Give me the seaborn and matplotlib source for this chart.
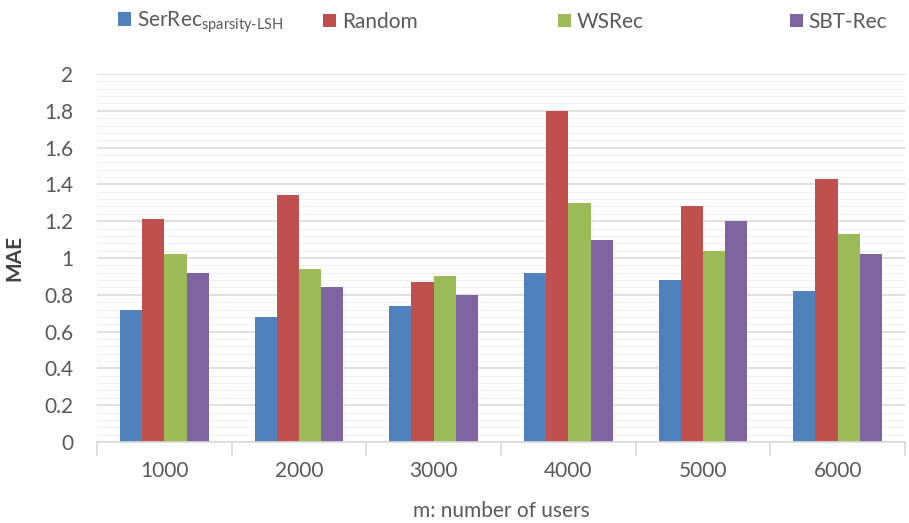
import numpy as np
import pandas as pd
import matplotlib
matplotlib.use('Agg')
import matplotlib.pyplot as plt
from matplotlib.ticker import MultipleLocator, FixedLocator
import seaborn as sns

# data
users = ['1000', '2000', '3000', '4000', '5000', '6000']
methods = ['SerRec', 'Random', 'WSRec', 'SBT-Rec']
serrec = [0.72, 0.68, 0.74, 0.92, 0.88, 0.82]
random_ = [1.21, 1.34, 0.87, 1.80, 1.28, 1.43]
wsrec = [1.02, 0.94, 0.90, 1.30, 1.04, 1.13]
sbtrec = [0.92, 0.84, 0.80, 1.10, 1.20, 1.02]
colors = ['#4F81BD', '#C0504D', '#9BBB59', '#8064A2']
legend_labels = ['SerRec$_{\\mathregular{sparsity\u2010LSH}}$', 'Random', 'WSRec', 'SBT-Rec']

df = pd.DataFrame({'users': users * 4,
                   'method': np.repeat(methods, len(users)),
                   'MAE': serrec + random_ + wsrec + sbtrec})

sns.set_style('white')
plt.rcParams['font.family'] = ['Lato', 'DejaVu Sans']
plt.rcParams['mathtext.fontset'] = 'custom'
plt.rcParams['mathtext.rm'] = 'Lato'

fig = plt.figure(figsize=(9.09, 5.23), dpi=100)
ax = fig.add_axes([97/909, 81/523, 808/909, 368/523])

sns.barplot(data=df, x='users', y='MAE', hue='method', order=users,
            hue_order=methods, palette=colors, saturation=1, width=0.66,
            linewidth=0, ax=ax, legend=False)

ax.set_ylim(0, 2)
ax.set_xlim(-0.5, 5.5)
ax.yaxis.set_minor_locator(MultipleLocator(0.04))
ax.set_yticks(np.arange(0, 2.01, 0.2))
ax.set_yticklabels(['0', '0.2', '0.4', '0.6', '0.8', '1', '1.2', '1.4', '1.6', '1.8', '2'])
ax.grid(axis='y', which='major', color='#d9d9d9', linewidth=1.2)
ax.grid(axis='y', which='minor', color='#f0f0f0', linewidth=0.8)
ax.set_axisbelow(True)

ax.xaxis.set_minor_locator(FixedLocator(np.arange(-0.5, 6, 1)))
ax.tick_params(axis='x', which='major', length=0, pad=14, labelsize=15, labelcolor='#595959')
ax.tick_params(axis='x', which='minor', length=10, width=1.2, color='#d9d9d9', bottom=True)
ax.tick_params(axis='y', which='both', length=0, pad=17, labelsize=15, labelcolor='#595959')

for s in ['top', 'right', 'left']:
    ax.spines[s].set_visible(False)
ax.spines['bottom'].set_color('#d9d9d9')
ax.spines['bottom'].set_linewidth(1.2)

ax.set_xlabel('m: number of users', fontsize=15, color='#595959', labelpad=14)
ax.set_ylabel('MAE', fontsize=15, fontweight='bold', color='#404040', labelpad=14)

# legend entries in evenly spaced slots, like the original
bars = [ax.containers[i].patches[0] for i in range(4)]
slots = [118, 323, 558, 790]
for h, lab, x in zip(bars, legend_labels, slots):
    fig.legend([h], [lab], loc='center left', bbox_to_anchor=(x/909, 1 - 22/523),
               frameon=False, fontsize=15, labelcolor='#595959', handlelength=0.6,
               handleheight=0.6, handletextpad=0.3, borderpad=0, borderaxespad=0)

fig.savefig('out.png', dpi=100)
